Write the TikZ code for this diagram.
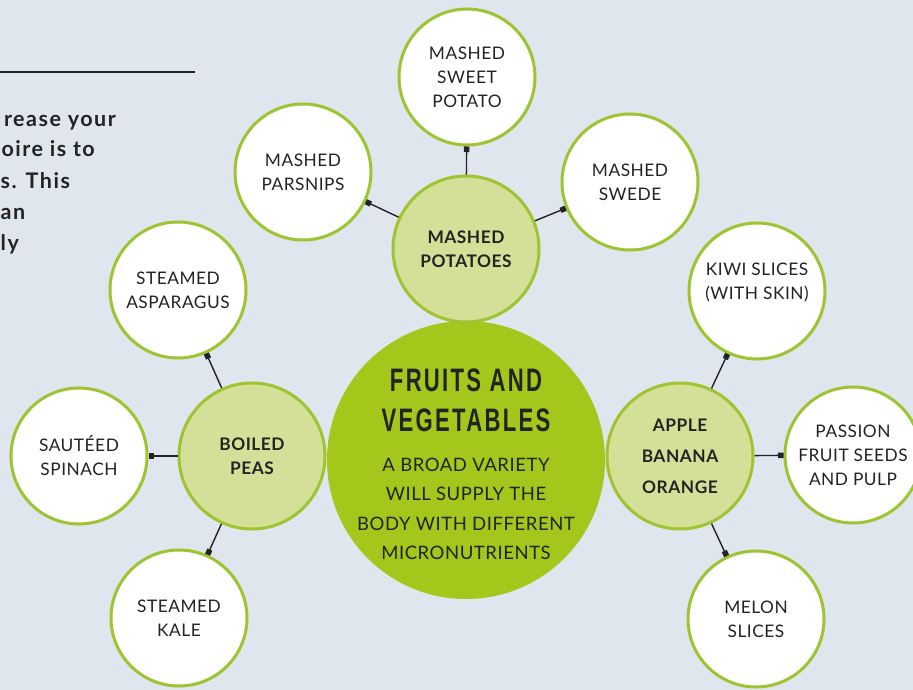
\documentclass[tikz,border=0pt]{standalone}
\usepackage{fontspec}
\setmainfont{Lato}
\newfontfamily\bodyfont[LetterSpace=3]{Lato}
\newfontfamily\sidefont[LetterSpace=7]{Lato}
\newfontfamily\titlefont[FakeStretch=0.68,LetterSpace=7]{Liberation Sans}
\usetikzlibrary{arrows.meta}
\definecolor{bg}{HTML}{DFE6ED}
\definecolor{lime}{HTML}{A4C71B}
\definecolor{pale}{HTML}{D4DF98}
\definecolor{rim}{HTML}{9EC432}
\definecolor{ink}{HTML}{232323}
\begin{document}
\begin{tikzpicture}[x=1pt,y=-1pt,
  leaf/.style={circle, draw=rim, line width=3pt, fill=white, minimum size=136pt, inner sep=0pt, align=center, text=ink, font=\bodyfont\fontsize{17.3}{24}\selectfont},
  hub/.style={circle, draw=rim, line width=3pt, fill=pale, minimum size=146pt, inner sep=0pt, align=center, text=ink, font=\bodyfont\bfseries\fontsize{17.3}{24}\selectfont},
  link/.style={draw=ink, line width=1.4pt, -{Square[length=5.5pt,width=5.5pt]}},
  side/.style={anchor=base east, inner sep=0pt, text=ink, font=\sidefont\bfseries\fontsize{21.5}{31}\selectfont},
  words/.style={text=ink, align=center, inner sep=0pt, font=\bodyfont\fontsize{17.3}{24}\selectfont}
]
\useasboundingbox (0,0) rectangle (913,690);
\fill[bg] (0,0) rectangle (913,690);
\clip (0,0) rectangle (913,690);

% left side text fragment
\draw[ink, line width=1.3pt] (0,72) -- (195,72);
\node[side] (t1) at (116,127) {rease your};
\node[side] (t2) at (95,157) {oire is to};
\node[side, anchor=base west] (t3) at (0.5,188) {s. This};
\node[side, anchor=base west] (t4) at (0.5,219) {an};
\node[side, anchor=base west] (t5) at (0.5,250) {ly};

% centre
\node[circle, fill=lime, minimum size=278pt, inner sep=0pt] (core) at (466,460) {};
\node[text=ink, font=\titlefont\bfseries\fontsize{32.5}{40}\selectfont] (title1) at (466,380) {FRUITS AND};
\node[text=ink, font=\titlefont\bfseries\fontsize{32.5}{40}\selectfont] (title2) at (466,420) {VEGETABLES};
\node[text=ink, align=center, font=\bodyfont\fontsize{18.5}{29.3}\selectfont] (sub) at (466,509)
  {A BROAD VARIETY\\WILL SUPPLY THE\\BODY WITH DIFFERENT\\MICRONUTRIENTS};

% hubs
\node[hub] (pot) at (466,249) {MASHED\\POTATOES};
\node[hub] (peas) at (252,456) {BOILED\\PEAS};
\node[hub, font=\bodyfont\bfseries\fontsize{17.3}{31}\selectfont] (fruit) at (680,456) {APPLE\\BANANA\\ORANGE};

% leaves
\node[leaf] (sweet) at (467,77) {MASHED\\SWEET\\POTATO};
\node[leaf] (pars) at (303,172) {MASHED\\PARSNIPS};
\node[leaf] (swede) at (630,182) {MASHED\\SWEDE};
\node[leaf] (asp) at (178,290) {STEAMED\\ASPARAGUS};
\node[leaf] (spin) at (79,456) {SAUTÉED\\SPINACH};
\node[leaf] (kale) at (179,618) {STEAMED\\KALE};
\node[leaf] (kiwi) at (757,291) {};
\node[words] (kiwitext) at (757,282) {KIWI SLICES\\(WITH SKIN)};
\node[leaf] (pass) at (853,455) {PASSION\\FRUIT SEEDS\\AND PULP};
\node[leaf] (melon) at (756,619) {MELON\\SLICES};

% links
\draw[link] (pot) -- (sweet);
\draw[link] (pot) -- (pars);
\draw[link] (pot) -- (swede);
\draw[link] (peas) -- (asp);
\draw[link] (peas) -- (spin);
\draw[link] (peas) -- (kale);
\draw[link] (fruit) -- (kiwi);
\draw[link] (fruit) -- (pass);
\draw[link] (fruit) -- (melon);
\end{tikzpicture}
\end{document}
